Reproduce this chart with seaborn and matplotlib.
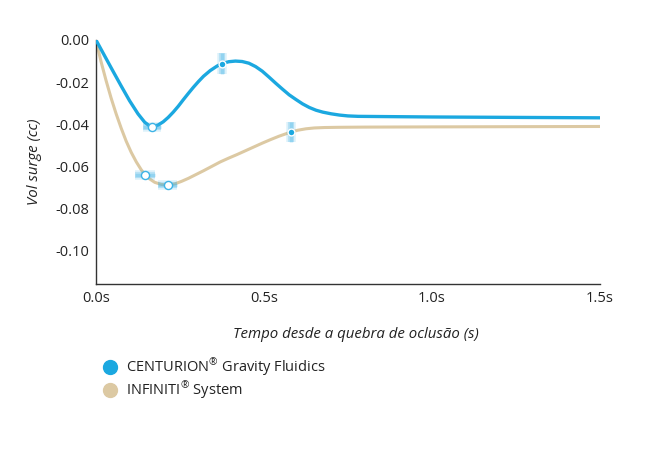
import numpy as np
import pandas as pd
import matplotlib
matplotlib.use("Agg")
import matplotlib.pyplot as plt
from matplotlib.lines import Line2D
import seaborn as sns

# values
centurion_t = [0.000, 0.025, 0.050, 0.075, 0.100, 0.125, 0.145, 0.160, 0.167, 0.185,
               0.200, 0.215, 0.230, 0.245, 0.260, 0.275, 0.290, 0.305, 0.320, 0.340,
               0.360, 0.375, 0.395, 0.415, 0.435, 0.455, 0.475, 0.495, 0.515, 0.535,
               0.555, 0.575, 0.595, 0.615, 0.635, 0.655, 0.675, 0.700, 0.725, 0.750,
               0.780, 0.850, 1.000, 1.250, 1.500]
centurion_v = [0.0000, -0.0073, -0.0146, -0.0218, -0.0288, -0.0350, -0.0390, -0.0408, -0.0411, -0.0403,
               -0.0388, -0.0367, -0.0342, -0.0314, -0.0283, -0.0253, -0.0224, -0.0197, -0.0172, -0.0145,
               -0.0124, -0.0112, -0.0103, -0.0100, -0.0102, -0.0110, -0.0126, -0.0148, -0.0176, -0.0205,
               -0.0233, -0.0260, -0.0282, -0.0303, -0.0320, -0.0333, -0.0342, -0.0350, -0.0356, -0.0360,
               -0.0362, -0.0363, -0.0365, -0.0367, -0.0369]

infiniti_t = [0.000, 0.015, 0.030, 0.045, 0.060, 0.075, 0.090, 0.105, 0.120, 0.135,
              0.146, 0.160, 0.175, 0.195, 0.214, 0.235, 0.255, 0.275, 0.295, 0.320,
              0.345, 0.370, 0.395, 0.420, 0.445, 0.470, 0.495, 0.520, 0.545, 0.570,
              0.600, 0.625, 0.650, 0.680, 0.720, 0.800, 1.000, 1.500]
infiniti_v = [0.0000, -0.0102, -0.0192, -0.0275, -0.0350, -0.0418, -0.0480, -0.0533, -0.0578, -0.0616,
              -0.0638, -0.0659, -0.0675, -0.0685, -0.0687, -0.0682, -0.0670, -0.0656, -0.0640, -0.0620,
              -0.0599, -0.0578, -0.0560, -0.0543, -0.0525, -0.0507, -0.0489, -0.0472, -0.0456, -0.0442,
              -0.0428, -0.0421, -0.0417, -0.0415, -0.0414, -0.0413, -0.0412, -0.0410]

# highlighted points: (t, v) with horizontal or vertical spread
hollow_t = [0.167, 0.146, 0.214]
hollow_v = [-0.0411, -0.0638, -0.0687]
hollow_xerr = [0.027, 0.030, 0.028]
solid_t = [0.375, 0.580]
solid_v = [-0.0112, -0.0436]
solid_yerr = [0.0048, 0.0048]

x_ticks = [0.0, 0.5, 1.0, 1.5]
x_ticklabels = ["0.0s", "0.5s", "1.0s", "1.5s"]
y_ticks = [0.00, -0.02, -0.04, -0.06, -0.08, -0.10]
y_ticklabels = ["0.00", "-0.02", "-0.04", "-0.06", "-0.08", "-0.10"]
legend_labels = ["CENTURION$^{®}$ Gravity Fluidics", "INFINITI$^{®}$ System"]

blue = "#1ba8e0"
beige = "#dcc9a3"
err_blue = "#3db3e6"

sns.set_style("white")
plt.rcParams["font.family"] = ["Open Sans", "DejaVu Sans"]
plt.rcParams["mathtext.fontset"] = "custom"
plt.rcParams["mathtext.rm"] = "Open Sans"
plt.rcParams["mathtext.default"] = "rm"

df = pd.concat([
    pd.DataFrame({"t": centurion_t, "v": centurion_v, "sys": "CENTURION"}),
    pd.DataFrame({"t": infiniti_t, "v": infiniti_v, "sys": "INFINITI"}),
])

fig = plt.figure(figsize=(6.45, 4.70), dpi=100)
ax = fig.add_axes([0.1488, 0.3957, 0.7814, 0.5192])

sns.lineplot(data=df[df.sys == "INFINITI"], x="t", y="v", color=beige, lw=2.2, ax=ax, zorder=2)
sns.lineplot(data=df[df.sys == "CENTURION"], x="t", y="v", color=blue, lw=2.4, ax=ax, zorder=3)

# soft bars behind the markers
for w, a in [(7, 0.15), (4.5, 0.25), (2.5, 0.3)]:
    ax.errorbar(hollow_t, hollow_v, xerr=hollow_xerr, fmt="none", ecolor=err_blue,
                elinewidth=w, alpha=a, capsize=0, zorder=4)
    ax.errorbar(solid_t, solid_v, yerr=solid_yerr, fmt="none", ecolor=err_blue,
                elinewidth=w, alpha=a, capsize=0, zorder=4)

ax.scatter(hollow_t, hollow_v, s=34, facecolor="white", edgecolor=err_blue, linewidth=1.0, zorder=5)
ax.scatter(solid_t, solid_v, s=24, facecolor=blue, edgecolor="white", linewidth=1.0, zorder=5)

ax.set_xlim(0, 1.5)
ax.set_ylim(-0.1157, 0.0)
ax.set_xticks(x_ticks)
ax.set_xticklabels(x_ticklabels)
ax.set_yticks(y_ticks)
ax.set_yticklabels(y_ticklabels)
ax.tick_params(length=0, labelsize=10.5, colors="#222222", pad=5)

for side in ["top", "right"]:
    ax.spines[side].set_visible(False)
for side in ["left", "bottom"]:
    ax.spines[side].set_color("#333333")
    ax.spines[side].set_linewidth(1.0)

ax.set_xlabel("Tempo desde a quebra de oclusão (s)", fontstyle="italic", fontsize=10.8,
              color="#222222")
ax.xaxis.set_label_coords(0.516, -0.175)
ax.set_ylabel("Vol surge (cc)", fontstyle="italic", fontsize=10.8, color="#222222")
ax.yaxis.set_label_coords(-0.108, 0.5)

handles = [
    Line2D([], [], marker="o", ls="none", markersize=10, markerfacecolor=blue, markeredgecolor=blue),
    Line2D([], [], marker="o", ls="none", markersize=10, markerfacecolor=beige, markeredgecolor=beige),
]
fig.legend(handles, legend_labels,
           loc="upper left", bbox_to_anchor=(0.139, 0.270), frameon=False,
           fontsize=10.5, handletextpad=0.6, labelspacing=0.12, handlelength=1.0,
           labelcolor="#222222")

fig.savefig("out.png", dpi=100)
